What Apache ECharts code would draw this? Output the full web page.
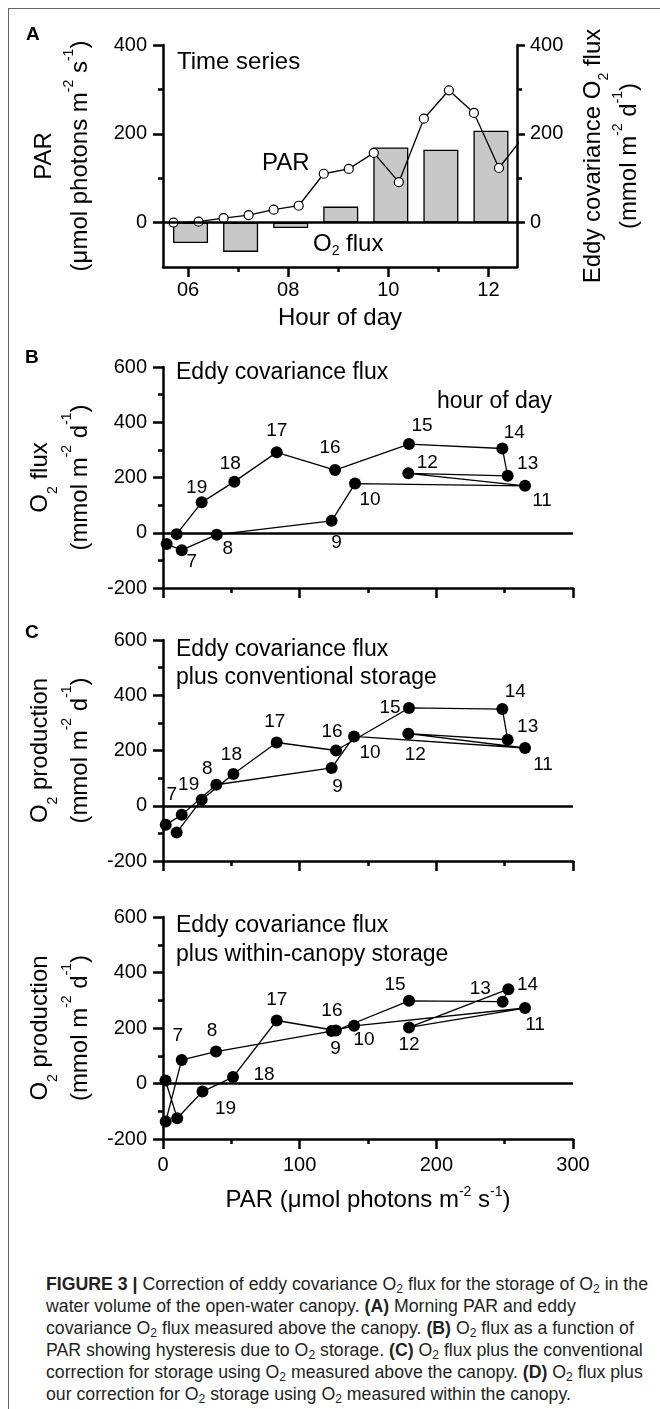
<!DOCTYPE html>
<html><head><meta charset="utf-8">
<script src="https://cdn.jsdelivr.net/npm/echarts@6/dist/echarts.min.js"></script>
<style>
html,body{margin:0;padding:0;background:#fff;}
#wrap{position:relative;width:660px;height:1409px;overflow:hidden;background:#fff;}
#frame{position:absolute;left:8px;top:8px;width:700px;height:1500px;border-left:1px solid #666;border-top:1px solid #666;}
#chart{position:absolute;left:0;top:0;width:660px;height:1250px;}
#caption{position:absolute;left:46px;top:1273px;font-family:"Liberation Sans",Arial,sans-serif;font-size:17.5px;line-height:22px;color:#231f20;white-space:nowrap;transform-origin:0 0;}
#caption sub{font-size:12px;vertical-align:-3px;line-height:0;}
#caption span{display:inline-block;}
</style></head>
<body><div id="wrap"><div id="frame"></div><div id="chart"></div>
<div id="caption"><span id="capLine1"><b>FIGURE 3 |</b> Correction of eddy covariance O<sub>2</sub> flux for the storage of O<sub>2</sub> in the</span><br>water volume of the open-water canopy. <b>(A)</b> Morning PAR and eddy<br>covariance O<sub>2</sub> flux measured above the canopy. <b>(B)</b> O<sub>2</sub> flux as a function of<br>PAR showing hysteresis due to O<sub>2</sub> storage. <b>(C)</b> O<sub>2</sub> flux plus the conventional<br>correction for storage using O<sub>2</sub> measured above the canopy. <b>(D)</b> O<sub>2</sub> flux plus<br>our correction for O<sub>2</sub> storage using O<sub>2</sub> measured within the canopy.</div>
</div>
<script>
// ---------------- DATA ----------------
// Panel A: time series
const hoursPAR = [5.71, 6.21, 6.71, 7.21, 7.71, 8.21, 8.71, 9.21, 9.71, 10.21, 10.71, 11.21, 11.71, 12.21, 12.71];
const parA = [0, 2, 10, 17, 29, 38, 110, 121, 157, 91, 234, 298, 247, 123, 195];
const hoursFlux = [6.05, 7.05, 8.05, 9.05, 10.05, 11.05, 12.05];
const fluxA = [-46, -66, -12, 36, 169, 164, 207];
const hourTicksA = [6, 8, 10, 12];
const hourMinorA = [7, 9, 11];
const yTicksA = [0, 200, 400];
const yMinorA = [100, 300];
// Panel B: eddy covariance flux vs PAR
const hoursB = [6, 7, 8, 9, 10, 11, 12, 13, 14, 15, 16, 17, 18, 19, 20];
const parB = [2.7, 13.7, 39.3, 123.4, 140.5, 264.9, 179.5, 252.2, 248.3, 180, 125.9, 83.2, 52.2, 28.3, 10];
const fluxB = [-41, -63, -7, 43, 178, 170, 215, 206, 305, 321, 227, 291, 185, 110, -5];
// Panel C: plus conventional storage
const hoursC = [6, 7, 8, 9, 10, 11, 12, 13, 14, 15, 16, 17, 18, 19, 20];
const parC = [2, 13.7, 39, 123.4, 139.8, 264.9, 179.5, 252.2, 248.3, 180, 126.6, 83.2, 51.5, 28.3, 10];
const prodC = [-69, -33, 76, 137, 251, 209, 261, 239, 350, 354, 200, 229, 115, 22, -97];
// Panel D: plus within-canopy storage
const hoursD = [6, 7, 8, 9, 10, 11, 12, 13, 14, 15, 16, 17, 18, 19, 20, 21];
const parD = [2, 13.7, 38.8, 123.4, 139.8, 264.9, 180, 252.7, 248.5, 180, 126.5, 83.2, 51.2, 28.9, 10.4, 1.8];
const prodD = [-137, 85, 115, 189, 208, 272, 202, 340, 295, 298, 191, 227, 23, -29, -125, 11];
const labelledHours = [7, 8, 9, 10, 11, 12, 13, 14, 15, 16, 17, 18, 19];
const parTicks = [0, 100, 200, 300];
const parMinor = [50, 150, 250];
const o2Ticks = [-200, 0, 200, 400, 600];
const o2Minor = [-100, 100, 300, 500];

// ---------------- LAYOUT / STYLE ----------------
const FONT = '"Liberation Sans", Arial, Helvetica, sans-serif';
const offB = {7:[10,12], 8:[11,14], 9:[5,22], 10:[15,16], 11:[17,15], 12:[19,-11], 13:[20,-12], 14:[12,-16], 15:[13,-18], 16:[-5,-22], 17:[0,-22], 18:[-4,-18], 19:[-5,-15]};
const offC = {7:[-10,-20], 8:[-9,-16], 9:[6,19], 10:[16,16], 11:[18,17], 12:[7,21], 13:[20,-13], 14:[13,-17], 15:[-19,0], 16:[-4,-19], 17:[-2,-21], 18:[-2,-19], 19:[-13,-15]};
const offD = {7:[-4,-24], 8:[-4,-21], 9:[4,18], 10:[10,14], 11:[10,17], 12:[0,17], 13:[-28,0], 14:[25,-17], 15:[-14,-16], 16:[-4,-20], 17:[0,-21], 18:[31,-2], 19:[23,17]};

function rt(size, lh) {
  return {
    t: {fontSize: size, fontFamily: FONT, color: '#000', lineHeight: lh},
    sup: {fontSize: Math.round(size * 0.6), fontFamily: FONT, color: '#000', lineHeight: Math.round(lh * 0.55), verticalAlign: 'top'},
    sub: {fontSize: Math.round(size * 0.6), fontFamily: FONT, color: '#000', lineHeight: Math.round(lh * 0.55), verticalAlign: 'bottom'}
  };
}
const AX = {color: '#000', width: 2.5};

function xPair(g, min, max, major, minor, showLabels, fmt, name, nameGap, margin) {
  return [
    {type: 'value', gridIndex: g, min: min, max: max, position: 'bottom',
     axisLine: {show: true, onZero: false, lineStyle: AX},
     axisTick: {show: true, length: 10, customValues: major, lineStyle: AX},
     axisLabel: {show: showLabels, customValues: major, formatter: fmt, fontSize: 20, fontFamily: FONT, color: '#000', margin: margin},
     splitLine: {show: false},
     name: name || '', nameLocation: 'middle', nameGap: nameGap || 0,
     nameTextStyle: {rich: rt(24, 30)}},
    {type: 'value', gridIndex: g, min: min, max: max, position: 'bottom',
     axisLine: {show: false, onZero: false},
     axisTick: {show: true, length: 5, customValues: minor, lineStyle: AX},
     axisLabel: {show: false}, splitLine: {show: false}}
  ];
}
function yPair(g, min, max, major, minor, pos, name, nameGap, lh, margin, tickLen) {
  return [
    {type: 'value', gridIndex: g, min: min, max: max, position: pos,
     axisLine: {show: true, onZero: false, lineStyle: AX},
     axisTick: {show: true, length: tickLen, customValues: major, lineStyle: AX},
     axisLabel: {show: true, customValues: major, fontSize: 20, fontFamily: FONT, color: '#000', margin: margin},
     splitLine: {show: false},
     name: name, nameLocation: 'middle', nameGap: nameGap, nameRotate: 90,
     nameTextStyle: {rich: rt(24, lh)}},
    {type: 'value', gridIndex: g, min: min, max: max, position: pos,
     axisLine: {show: false, onZero: false},
     axisTick: {show: true, length: 5, customValues: minor, lineStyle: AX},
     axisLabel: {show: false}, splitLine: {show: false}}
  ];
}

const unitsFlux = '{t|(mmol m}{sup|-2}{t| d}{sup|-1}{t|)}';
const xAxes = [].concat(
  xPair(0, 5.5, 12.57, hourTicksA, hourMinorA, true, v => (v < 10 ? '0' : '') + v, '{t|Hour of day}', 36, 13),
  xPair(1, 0, 300, parTicks, parMinor, false, null, '', 0, 14),
  xPair(2, 0, 300, parTicks, parMinor, false, null, '', 0, 14),
  xPair(3, 0, 300, parTicks, parMinor, true, null, '{t|PAR (μmol photons m}{sup|-2}{t| s}{sup|-1}{t|)}', 46, 16)
);
const yAxes = [].concat(
  yPair(0, -100, 400, yTicksA, yMinorA, 'left', '{t|PAR}\n{t|(μmol photons m}{sup|-2}{t| s}{sup|-1}{t|)}', 65, 36, 16, 10),
  yPair(0, -100, 400, yTicksA, yMinorA, 'right', '{t|Eddy covariance O}{sub|2}{t| flux}\n' + unitsFlux, 58, 36, 13, 8),
  yPair(1, -200, 600, o2Ticks, o2Minor, 'left', '{t|O}{sub|2}{t| flux}\n' + unitsFlux, 63, 40, 16, 10),
  yPair(2, -200, 600, o2Ticks, o2Minor, 'left', '{t|O}{sub|2}{t| production}\n' + unitsFlux, 63, 40, 16, 10),
  yPair(3, -200, 600, o2Ticks, o2Minor, 'left', '{t|O}{sub|2}{t| production}\n' + unitsFlux, 63, 40, 16, 10)
);

const zeroLine = {silent: true, symbol: ['none', 'none'], label: {show: false},
  lineStyle: {color: '#000', width: 2.5, type: 'solid'}, data: [{yAxis: 0}]};

function hysteresis(xi, yi, par, vals, hours, offs) {
  return {
    type: 'line', xAxisIndex: xi, yAxisIndex: yi, clip: false,
    symbol: 'circle', symbolSize: 12,
    itemStyle: {color: '#000'}, lineStyle: {color: '#000', width: 1.3},
    data: par.map((p, i) => {
      const h = hours[i];
      const show = labelledHours.indexOf(h) >= 0 && offs[h];
      return {value: [p, vals[i]],
        label: show ? {show: true, position: 'inside', offset: offs[h], formatter: String(h),
                       fontSize: 19, fontFamily: FONT, color: '#000'} : {show: false}};
    }),
    markLine: zeroLine, z: 3
  };
}

function txt(x, y, text, size, weight) {
  return {type: 'text', x: x, y: y, z: 50,
    style: {text: text, fontSize: size, fontFamily: FONT, fontWeight: weight || 'normal', fill: '#000',
            textAlign: 'left', textVerticalAlign: 'middle', align: 'left', verticalAlign: 'middle',
            rich: {sub: {fontSize: 14, fontFamily: FONT, fill: '#000', verticalAlign: 'bottom', lineHeight: 14},
                   t: {fontSize: size, fontFamily: FONT, fill: '#000', lineHeight: size + 4}}}};
}

const option = {
  animation: false,
  backgroundColor: 'transparent',
  textStyle: {fontFamily: FONT},
  grid: [
    {left: 163, top: 45, width: 354, height: 222},
    {left: 163, top: 367, width: 410, height: 221},
    {left: 163, top: 640, width: 410, height: 221},
    {left: 163, top: 917, width: 410, height: 222}
  ],
  xAxis: xAxes,
  yAxis: yAxes,
  series: [
    {type: 'bar', xAxisIndex: 0, yAxisIndex: 2, barWidth: 35,
     data: hoursFlux.map((h, i) => [h, fluxA[i]]),
     itemStyle: {color: '#c8c8c8', borderColor: '#000', borderWidth: 1.3},
     markLine: zeroLine, z: 2},
    {type: 'line', xAxisIndex: 0, yAxisIndex: 0, clip: true,
     data: hoursPAR.map((h, i) => [h, parA[i]]),
     symbol: 'circle', symbolSize: 9,
     itemStyle: {color: '#fff', borderColor: '#000', borderWidth: 1.2},
     lineStyle: {color: '#000', width: 1.3}, z: 4},
    hysteresis(2, 4, parB, fluxB, hoursB, offB),
    hysteresis(4, 6, parC, prodC, hoursC, offC),
    hysteresis(6, 8, parD, prodD, hoursD, offD)
  ],
  graphic: [
    txt(26, 35, 'A', 19, 'bold'),
    txt(25, 358, 'B', 19, 'bold'),
    txt(25, 633, 'C', 19, 'bold'),
    txt(177, 62, 'Time series', 24),
    txt(262, 163, 'PAR', 24),
    txt(313, 244, '{t|O}{sub|2}{t| flux}', 24),
    txt(176, 373, 'Eddy covariance flux', 23),
    txt(437, 402, 'hour of day', 23),
    txt(176, 650, 'Eddy covariance flux', 23),
    txt(176, 678, 'plus conventional storage', 23),
    txt(176, 926, 'Eddy covariance flux', 23),
    txt(176, 955, 'plus within-canopy storage', 23)
  ]
};
const chart = echarts.init(document.getElementById('chart'));
chart.setOption(option);

// fit caption to the reference line width (condensed look)
(function () {
  const line1 = document.getElementById('capLine1');
  const w = line1.getBoundingClientRect().width;
  const s = 602 / w;
  document.getElementById('caption').style.transform = 'scaleX(' + s.toFixed(4) + ')';
})();
</script></body></html>
